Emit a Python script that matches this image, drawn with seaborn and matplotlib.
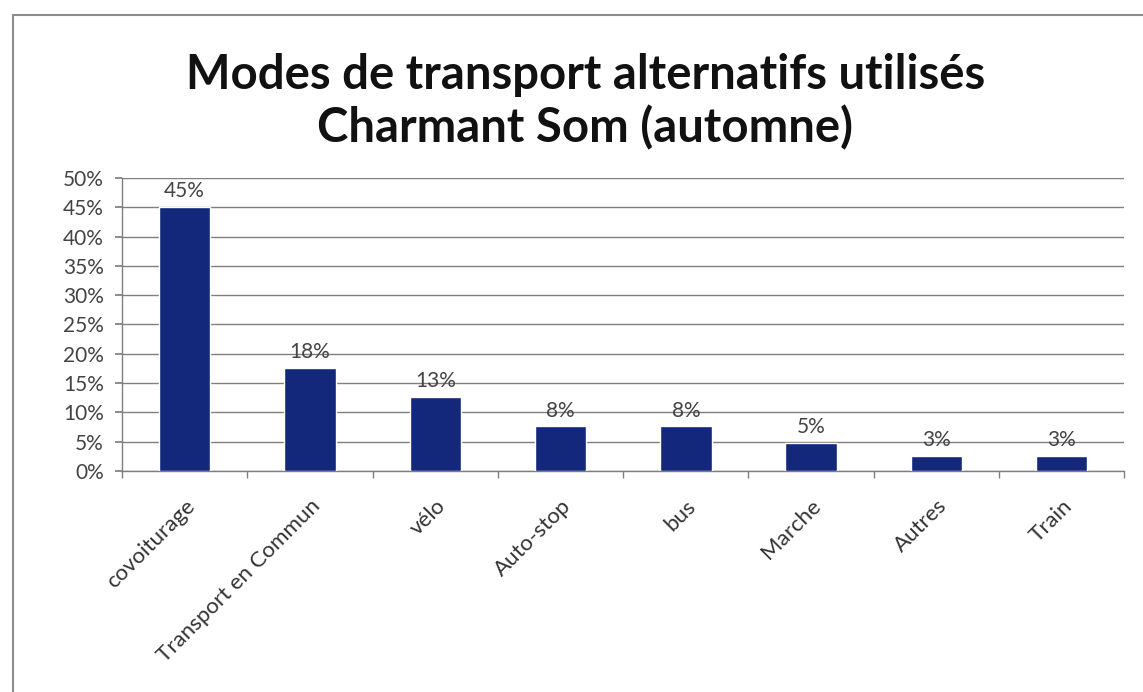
import numpy as np
import pandas as pd
import matplotlib
matplotlib.use("Agg")
import matplotlib.pyplot as plt
from matplotlib.patches import Rectangle
import seaborn as sns

# Data
modes = ["covoiturage", "Transport en Commun", "vélo", "Auto-stop", "bus", "Marche", "Autres", "Train"]
share = [45, 17.6, 12.6, 7.6, 7.6, 4.8, 2.6, 2.6]
yticks = list(range(0, 55, 5))

df = pd.DataFrame({"mode": modes, "share": share})

sns.set_theme(style="white")
plt.rcParams["font.family"] = ["Lato", "DejaVu Sans"]

fig = plt.figure(figsize=(11.43, 6.92), dpi=100)
ax = fig.add_axes([0.1067, 0.3194, 0.877, 0.4234])

sns.barplot(data=df, x="mode", y="share", color="#13287a", width=0.41,
            saturation=1, ax=ax, zorder=3)

# data labels
for i, v in enumerate(share):
    ax.text(i, v + 1.0, f"{round(v)}%", ha="center", va="bottom",
            fontsize=15, color="#444444")

ax.set_xlim(-0.5, len(modes) - 0.5)
ax.set_ylim(0, 50)
ax.set_yticks(yticks)
ax.set_yticklabels([f"{t}%" for t in yticks], fontsize=15, color="#444444")
ax.yaxis.grid(True, color="#7f7f7f", linewidth=1, zorder=0)
ax.set_xlabel("")
ax.set_ylabel("")

ax.set_xticks(range(len(modes)))
ax.set_xticklabels(modes, rotation=45, ha="right", rotation_mode="anchor",
                   fontsize=16, color="#333333")
ax.tick_params(axis="x", which="major", length=0, pad=18)
ax.set_xticks(np.arange(-0.5, len(modes), 1), minor=True)
ax.tick_params(axis="x", which="minor", length=5, color="#7f7f7f", direction="out", bottom=True)
ax.tick_params(axis="y", length=5, color="#7f7f7f", direction="out", left=True, pad=8)

for side in ["top", "right"]:
    ax.spines[side].set_visible(False)
for side in ["left", "bottom"]:
    ax.spines[side].set_color("#7f7f7f")
    ax.spines[side].set_linewidth(1)

fig.text(0.512, 0.892, "Modes de transport alternatifs utilisés", ha="center", va="center",
         fontsize=34, fontweight="bold", color="#111111")
fig.text(0.512, 0.816, "Charmant Som (automne)", ha="center", va="center",
         fontsize=34, fontweight="bold", color="#111111")

# outer chart frame
fig.patches.append(Rectangle((0.011, -0.1), 1.2, 1.078, transform=fig.transFigure,
                             fill=False, edgecolor="#8c8c8c", linewidth=1.5))

fig.savefig("out.png", dpi=100, facecolor="white")
